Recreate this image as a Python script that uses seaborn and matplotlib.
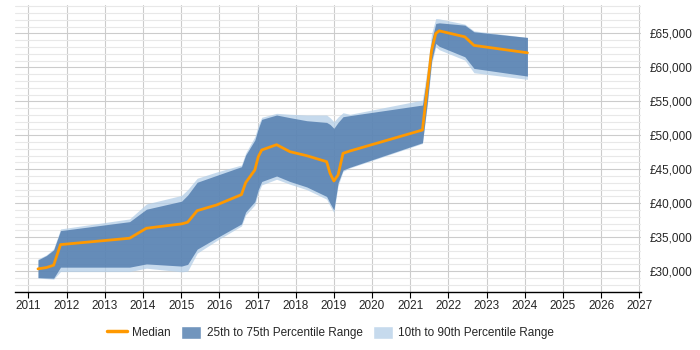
"""
Salary trend: median with 25-75 and 10-90 percentile ranges
"""
import pandas as pd
import numpy as np
import matplotlib.pyplot as plt
import matplotlib.ticker as mticker
from matplotlib.lines import Line2D
from matplotlib.patches import Patch
import seaborn as sns

sns.set_style("whitegrid")
plt.rcParams['font.family'] = ['Liberation Sans', 'DejaVu Sans']

# Data (decimal years, GBP)
years = [2011.25, 2011.47, 2011.66, 2011.84, 2013.65, 2014.09, 2015.01, 2015.17,
         2015.42, 2015.93, 2016.58, 2016.69, 2016.93, 2017.02, 2017.11, 2017.50,
         2017.85, 2018.29, 2018.81, 2018.90, 2019.00, 2019.11, 2019.24, 2019.42,
         2021.32, 2021.45, 2021.56, 2021.67, 2021.76, 2022.43, 2022.67, 2024.07]
median = [30340, 30530, 30880, 33910, 34850, 36320, 36960, 37200,
          38910, 39750, 41270, 43030, 44900, 46850, 47840, 48620,
          47590, 47000, 46120, 44410, 43280, 44160, 47350, 47690,
          50780, 57150, 62540, 65000, 65380, 64500, 63240, 62150]
p75 = [31660, 32300, 33130, 35970, 37290, 39120, 40300, 41200,
       43090, 44100, 45380, 47100, 49310, 51000, 52350, 52990,
       52600, 52150, 51900, 51600, 51030, 51900, 52740, 52900,
       54460, 59000, 64000, 66470, 66560, 66220, 65240, 64410]
p25 = [29060, 29000, 28970, 30590, 30590, 31070, 30750, 31000,
       33240, 34900, 36960, 38720, 40240, 42000, 43200, 44010,
       43200, 42400, 41000, 40000, 39010, 43000, 44900, 45300,
       48910, 55000, 61000, 63530, 63100, 61560, 59850, 58720]
p90 = [31800, 32400, 33300, 36220, 37690, 39900, 41150, 42000,
       43680, 44600, 45630, 47400, 49800, 51500, 52650, 53240,
       53100, 52990, 52990, 52600, 52000, 52700, 53330, 53090,
       55190, 60000, 65000, 67200, 67150, 66370, 65380, 64410]
p10 = [28970, 28900, 28820, 29940, 29940, 30440, 29900, 30000,
       32650, 34500, 36660, 38280, 39750, 41500, 42700, 43530,
       42800, 42000, 40600, 39600, 38620, 42600, 44700, 45200,
       48800, 54500, 60500, 63030, 62600, 61070, 59210, 58240]

df = pd.DataFrame({'year': years, 'median': median, 'p25': p25, 'p75': p75,
                   'p10': p10, 'p90': p90})

dark = '#4572A7'
light = '#b3cee7'
orange = '#FF9900'

fig = plt.figure(figsize=(7, 3.5), dpi=100)
ax = fig.add_axes([0.021, 0.167, 0.895, 0.819])

ax.fill_between(df['year'], df['p10'], df['p90'], color=light, alpha=0.75,
                linewidth=0, zorder=2)
ax.fill_between(df['year'], df['p25'], df['p75'], color=dark, alpha=0.75,
                linewidth=0, zorder=3)
sns.lineplot(data=df, x='year', y='median', color=orange, linewidth=2,
             ax=ax, zorder=4)

ax.set_xlim(2010.64, 2027.05)
ax.set_ylim(27000, 69200)
ax.xaxis.set_major_locator(mticker.MultipleLocator(1))
ax.yaxis.set_major_locator(mticker.MultipleLocator(5000))
ax.yaxis.set_minor_locator(mticker.MultipleLocator(1000))
ax.yaxis.set_major_formatter(mticker.FuncFormatter(lambda v, p: f'£{int(v):,}'))
ax.yaxis.tick_right()
ax.set_xlabel('')
ax.set_ylabel('')

ax.grid(True, which='major', axis='both', color='#cccccc', linewidth=0.8, zorder=1)
ax.grid(True, which='minor', axis='y', color='#e8e8e8', linewidth=0.8, zorder=1)
ax.set_axisbelow(True)

for side in ['left', 'right', 'top']:
    ax.spines[side].set_visible(False)
ax.spines['bottom'].set_color('black')
ax.spines['bottom'].set_linewidth(1)
ax.tick_params(axis='x', which='major', length=4, color='black', labelsize=8.5,
               bottom=True, pad=2)
ax.tick_params(axis='y', which='both', length=0, labelsize=8.5, pad=6)

handles = [Line2D([0], [0], color=orange, linewidth=2.5),
           Patch(facecolor='#7195bd'),
           Patch(facecolor='#c6daed')]
labels = ['Median', '25th to 75th Percentile Range', '10th to 90th Percentile Range']
fig.legend(handles, labels, loc='center', bbox_to_anchor=(0.472, 0.05), ncol=3,
           frameon=False, fontsize=8.5, handlelength=1.7, handleheight=1.3,
           columnspacing=0.9, handletextpad=0.45)

plt.savefig('out.png', dpi=100)
